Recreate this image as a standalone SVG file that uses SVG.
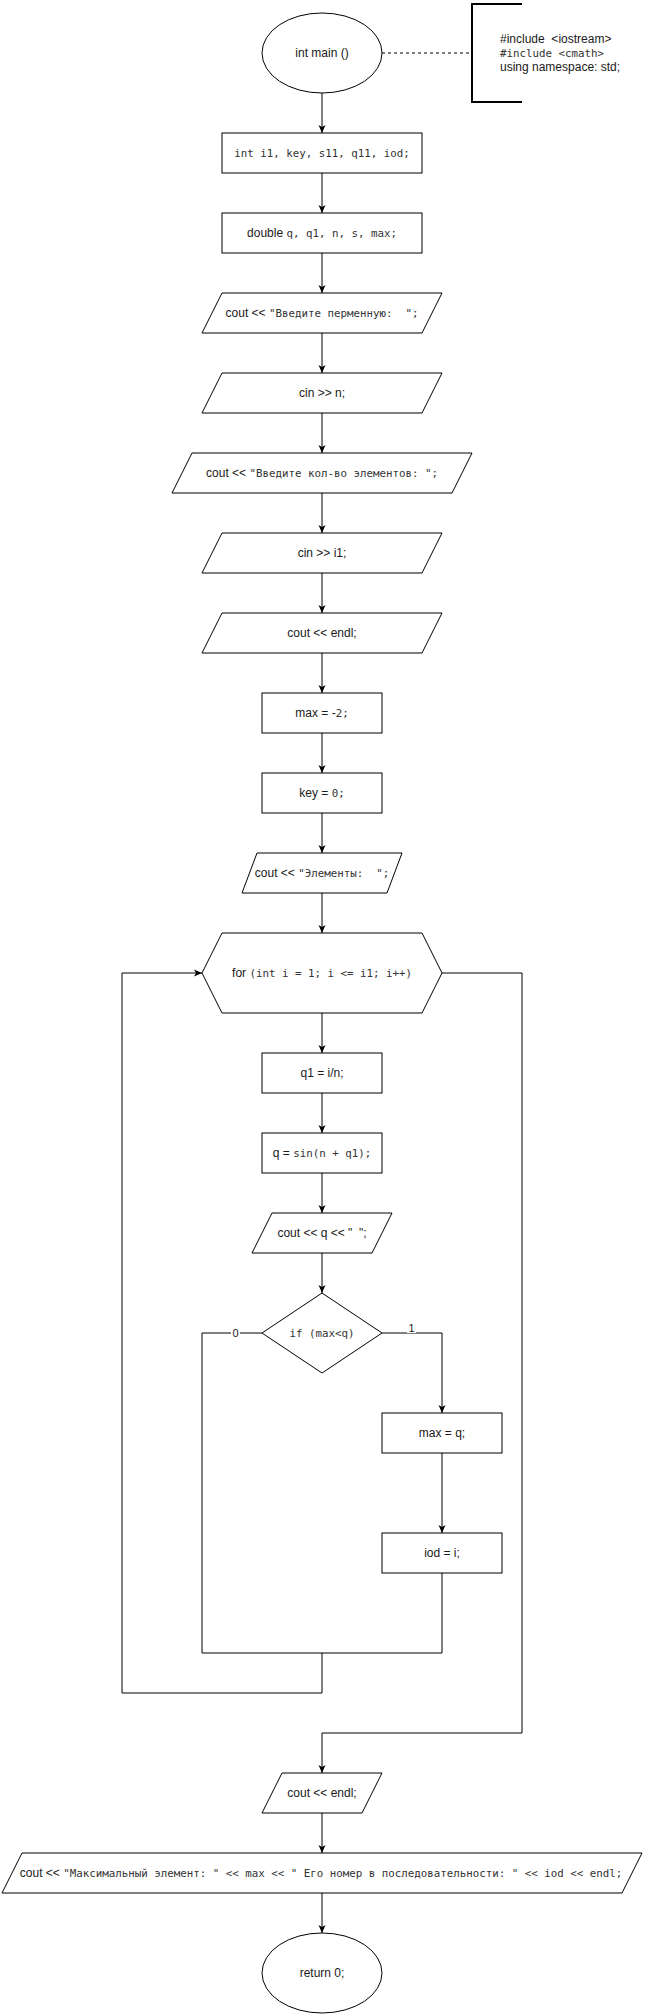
<svg xmlns="http://www.w3.org/2000/svg" width="645" height="2016" viewBox="0 0 645 2016">
<style>
.s{fill:#fff;stroke:#000;stroke-width:1}
.e{fill:none;stroke:#000;stroke-width:1}
.t{font-family:"Liberation Sans",Arial,sans-serif;font-size:12px;fill:#1a1a1a;text-anchor:middle;white-space:pre}
.m{font-family:"DejaVu Sans Mono","Liberation Mono",monospace;font-size:10.8px;fill:#333}
.l{font-family:"Liberation Sans",Arial,sans-serif;font-size:12px;fill:#1a1a1a;white-space:pre}
.lb{font-family:"Liberation Sans",Arial,sans-serif;font-size:11px;fill:#1a1a1a;text-anchor:middle}
</style>
<defs>
<marker id="arr" markerWidth="8" markerHeight="8" refX="8" refY="4" orient="auto" markerUnits="userSpaceOnUse">
<path d="M0,0.5 L8,4 L0,7.5 L2,4 z" fill="#000"/>
</marker>
</defs>
<rect width="645" height="2016" fill="#fff"/>
<g id="connectors">
<line class="e" x1="382" y1="53" x2="472" y2="53" stroke-dasharray="3 3"/>
<line class="e" x1="322" y1="93" x2="322" y2="133" marker-end="url(#arr)"/>
<line class="e" x1="322" y1="173" x2="322" y2="213" marker-end="url(#arr)"/>
<line class="e" x1="322" y1="253" x2="322" y2="293" marker-end="url(#arr)"/>
<line class="e" x1="322" y1="333" x2="322" y2="373" marker-end="url(#arr)"/>
<line class="e" x1="322" y1="413" x2="322" y2="453" marker-end="url(#arr)"/>
<line class="e" x1="322" y1="493" x2="322" y2="533" marker-end="url(#arr)"/>
<line class="e" x1="322" y1="573" x2="322" y2="613" marker-end="url(#arr)"/>
<line class="e" x1="322" y1="653" x2="322" y2="693" marker-end="url(#arr)"/>
<line class="e" x1="322" y1="733" x2="322" y2="773" marker-end="url(#arr)"/>
<line class="e" x1="322" y1="813" x2="322" y2="853" marker-end="url(#arr)"/>
<line class="e" x1="322" y1="893" x2="322" y2="933" marker-end="url(#arr)"/>
<line class="e" x1="322" y1="1013" x2="322" y2="1053" marker-end="url(#arr)"/>
<line class="e" x1="322" y1="1093" x2="322" y2="1133" marker-end="url(#arr)"/>
<line class="e" x1="322" y1="1173" x2="322" y2="1213" marker-end="url(#arr)"/>
<line class="e" x1="322" y1="1253" x2="322" y2="1293" marker-end="url(#arr)"/>
<polyline class="e" points="382,1333 442,1333 442,1413" marker-end="url(#arr)"/>
<line class="e" x1="442" y1="1453" x2="442" y2="1533" marker-end="url(#arr)"/>
<polyline class="e" points="442,1573 442,1653 322,1653"/>
<polyline class="e" points="262,1333 202,1333 202,1653 322,1653"/>
<polyline class="e" points="322,1653 322,1693 122,1693 122,973 202,973" marker-end="url(#arr)"/>
<polyline class="e" points="442,973 522,973 522,1733 322,1733 322,1773" marker-end="url(#arr)"/>
<line class="e" x1="322" y1="1813" x2="322" y2="1853" marker-end="url(#arr)"/>
<line class="e" x1="322" y1="1893" x2="322" y2="1933" marker-end="url(#arr)"/>
<rect x="231" y="1326" width="9" height="13" fill="#fff"/>
<text class="lb" x="235.5" y="1337">0</text>
<rect x="407" y="1321" width="9" height="12" fill="#fff"/>
<text class="lb" x="411.5" y="1332">1</text>
</g>
<g id="start">
<ellipse class="s" cx="322" cy="53" rx="60" ry="40"/>
<text class="t" x="322" y="57">int main ()</text>
</g>
<g id="includes">
<polyline fill="none" stroke="#000" stroke-width="2" points="522,4 472,4 472,102 522,102"/>
<text class="l" x="500" y="42.5">#include  &lt;iostream&gt;</text>
<text class="l" x="500" y="56.5"><tspan class="m">#include &lt;cmath&gt;</tspan></text>
<text class="l" x="500" y="70.5">using namespace: std;</text>
</g>
<g id="decl-int">
<rect class="s" x="222" y="133" width="200" height="40"/>
<text class="t" x="322" y="157"><tspan class="m">int i1, key, s11, q11, iod;</tspan></text>
</g>
<g id="decl-double">
<rect class="s" x="222" y="213" width="200" height="40"/>
<text class="t" x="322" y="237">double <tspan class="m">q, q1, n, s, max;</tspan></text>
</g>
<g id="out-var">
<polygon class="s" points="222,293 442,293 422,333 202,333"/>
<text class="t" x="322" y="317">cout &lt;&lt; <tspan class="m">"Введите перменную:  ";</tspan></text>
</g>
<g id="in-n">
<polygon class="s" points="222,373 442,373 422,413 202,413"/>
<text class="t" x="322" y="397">cin &gt;&gt; n;</text>
</g>
<g id="out-count">
<polygon class="s" points="192,453 472,453 452,493 172,493"/>
<text class="t" x="322" y="477">cout &lt;&lt; <tspan class="m">"Введите кол-во элементов: ";</tspan></text>
</g>
<g id="in-i1">
<polygon class="s" points="222,533 442,533 422,573 202,573"/>
<text class="t" x="322" y="557">cin &gt;&gt; i1;</text>
</g>
<g id="out-endl1">
<polygon class="s" points="222,613 442,613 422,653 202,653"/>
<text class="t" x="322" y="637">cout &lt;&lt; endl;</text>
</g>
<g id="max-init">
<rect class="s" x="262" y="693" width="120" height="40"/>
<text class="t" x="322" y="717">max = -<tspan class="m">2;</tspan></text>
</g>
<g id="key-init">
<rect class="s" x="262" y="773" width="120" height="40"/>
<text class="t" x="322" y="797">key = <tspan class="m">0;</tspan></text>
</g>
<g id="out-elements">
<polygon class="s" points="257,853 402,853 387,893 242,893"/>
<text class="t" x="322" y="877">cout &lt;&lt; <tspan class="m">"Элементы:  ";</tspan></text>
</g>
<g id="loop">
<polygon class="s" points="202,973 222,933 422,933 442,973 422,1013 222,1013"/>
<text class="t" x="322" y="977">for <tspan class="m">(int i = 1; i &lt;= i1; i++)</tspan></text>
</g>
<g id="q1-calc">
<rect class="s" x="262" y="1053" width="120" height="40"/>
<text class="t" x="322" y="1077">q1 = i/n;</text>
</g>
<g id="q-calc">
<rect class="s" x="262" y="1133" width="120" height="40"/>
<text class="t" x="322" y="1157">q = <tspan class="m">sin(n + q1);</tspan></text>
</g>
<g id="out-q">
<polygon class="s" points="272,1213 392,1213 372,1253 252,1253"/>
<text class="t" x="322" y="1237">cout &lt;&lt; q &lt;&lt; "  ";</text>
</g>
<g id="cond">
<polygon class="s" points="322,1293 382,1333 322,1373 262,1333"/>
<text class="t" x="322" y="1337"><tspan class="m">if (max&lt;q)</tspan></text>
</g>
<g id="max-set">
<rect class="s" x="382" y="1413" width="120" height="40"/>
<text class="t" x="442" y="1437">max = q;</text>
</g>
<g id="iod-set">
<rect class="s" x="382" y="1533" width="120" height="40"/>
<text class="t" x="442" y="1557">iod = i;</text>
</g>
<g id="out-endl2">
<polygon class="s" points="282,1773 382,1773 362,1813 262,1813"/>
<text class="t" x="322" y="1797">cout &lt;&lt; endl;</text>
</g>
<g id="out-result">
<polygon class="s" points="22,1853 642,1853 622,1893 2,1893"/>
<text class="t" x="321" y="1877">cout &lt;&lt; <tspan class="m">"Максимальный элемент: " &lt;&lt; max &lt;&lt; " Его номер в последовательности: " &lt;&lt; iod &lt;&lt; endl;</tspan></text>
</g>
<g id="end">
<ellipse class="s" cx="322" cy="1973" rx="60" ry="40"/>
<text class="t" x="322" y="1977">return 0;</text>
</g>
</svg>
